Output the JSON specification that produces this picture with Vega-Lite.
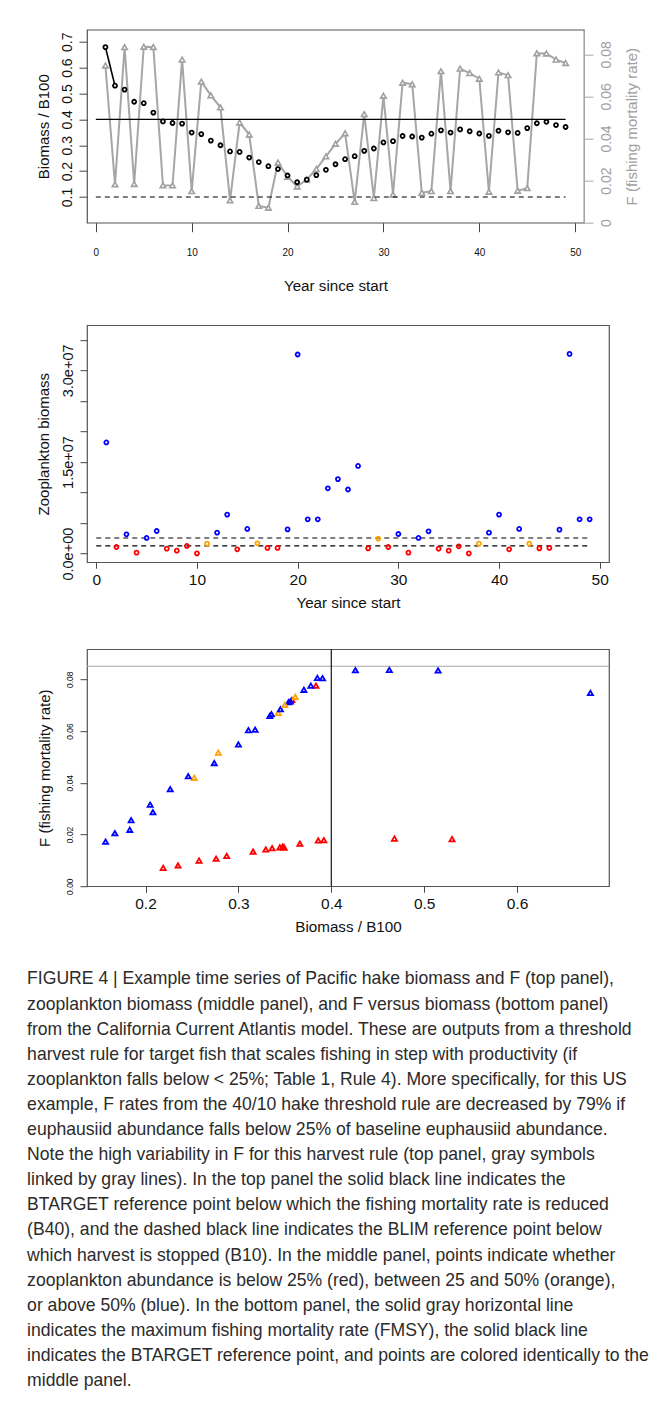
{
  "$schema": "https://vega.github.io/schema/vega-lite/v6.json",
  "padding": {"left": 27, "top": 28.7, "right": 2, "bottom": 2},
  "spacing": 28.5,
  "config": {
    "font": "Liberation Sans",
    "view": {"stroke": "#555", "strokeWidth": 1.2},
    "axis": {"grid": false, "domain": false, "tickColor": "#444", "labelColor": "#111", "titleColor": "#111", "titleFontWeight": "normal", "labelFlush": false, "labelOverlap": false}
  },
  "datasets": {
    "ts": [
      {"year": 1, "biomass": 0.679, "F": 0.0747, "zoo": 18200000, "zcat": "above 50%"},
      {"year": 2, "biomass": 0.530, "F": 0.0182, "zoo": 1090000, "zcat": "below 25%"},
      {"year": 3, "biomass": 0.515, "F": 0.0834, "zoo": 3170000, "zcat": "above 50%"},
      {"year": 4, "biomass": 0.468, "F": 0.0184, "zoo": 160000, "zcat": "below 25%"},
      {"year": 5, "biomass": 0.4625, "F": 0.0836, "zoo": 2570000, "zcat": "above 50%"},
      {"year": 6, "biomass": 0.426, "F": 0.0835, "zoo": 3710000, "zcat": "above 50%"},
      {"year": 7, "biomass": 0.392, "F": 0.0178, "zoo": 820000, "zcat": "below 25%"},
      {"year": 8, "biomass": 0.386, "F": 0.0177, "zoo": 490000, "zcat": "below 25%"},
      {"year": 9, "biomass": 0.3835, "F": 0.0775, "zoo": 1260000, "zcat": "below 25%"},
      {"year": 10, "biomass": 0.349, "F": 0.0150, "zoo": 50000, "zcat": "below 25%"},
      {"year": 11, "biomass": 0.343, "F": 0.0670, "zoo": 1640000, "zcat": "25-50%"},
      {"year": 12, "biomass": 0.318, "F": 0.0605, "zoo": 3440000, "zcat": "above 50%"},
      {"year": 13, "biomass": 0.300, "F": 0.0548, "zoo": 6390000, "zcat": "above 50%"},
      {"year": 14, "biomass": 0.276, "F": 0.0106, "zoo": 710000, "zcat": "below 25%"},
      {"year": 15, "biomass": 0.274, "F": 0.0476, "zoo": 4040000, "zcat": "above 50%"},
      {"year": 16, "biomass": 0.2525, "F": 0.0419, "zoo": 1690000, "zcat": "25-50%"},
      {"year": 17, "biomass": 0.235, "F": 0.0080, "zoo": 930000, "zcat": "below 25%"},
      {"year": 18, "biomass": 0.219, "F": 0.0071, "zoo": 930000, "zcat": "below 25%"},
      {"year": 19, "biomass": 0.208, "F": 0.0286, "zoo": 3980000, "zcat": "above 50%"},
      {"year": 20, "biomass": 0.183, "F": 0.0218, "zoo": 32600000, "zcat": "above 50%"},
      {"year": 21, "biomass": 0.157, "F": 0.0172, "zoo": 5620000, "zcat": "above 50%"},
      {"year": 22, "biomass": 0.167, "F": 0.0205, "zoo": 5620000, "zcat": "above 50%"},
      {"year": 23, "biomass": 0.1845, "F": 0.0255, "zoo": 10700000, "zcat": "above 50%"},
      {"year": 24, "biomass": 0.205, "F": 0.0315, "zoo": 12200000, "zcat": "above 50%"},
      {"year": 25, "biomass": 0.2266, "F": 0.0375, "zoo": 10500000, "zcat": "above 50%"},
      {"year": 26, "biomass": 0.246, "F": 0.0425, "zoo": 14360000, "zcat": "above 50%"},
      {"year": 27, "biomass": 0.2576, "F": 0.0099, "zoo": 870000, "zcat": "below 25%"},
      {"year": 28, "biomass": 0.2784, "F": 0.0516, "zoo": 2460000, "zcat": "25-50%"},
      {"year": 29, "biomass": 0.2874, "F": 0.0117, "zoo": 1090000, "zcat": "below 25%"},
      {"year": 30, "biomass": 0.3108, "F": 0.0603, "zoo": 3220000, "zcat": "above 50%"},
      {"year": 31, "biomass": 0.3158, "F": 0.0134, "zoo": 160000, "zcat": "below 25%"},
      {"year": 32, "biomass": 0.3356, "F": 0.0665, "zoo": 2570000, "zcat": "above 50%"},
      {"year": 33, "biomass": 0.3338, "F": 0.0658, "zoo": 3660000, "zcat": "above 50%"},
      {"year": 34, "biomass": 0.3295, "F": 0.0142, "zoo": 820000, "zcat": "below 25%"},
      {"year": 35, "biomass": 0.3446, "F": 0.0150, "zoo": 490000, "zcat": "below 25%"},
      {"year": 36, "biomass": 0.3576, "F": 0.0720, "zoo": 1200000, "zcat": "below 25%"},
      {"year": 37, "biomass": 0.349, "F": 0.0150, "zoo": 50000, "zcat": "below 25%"},
      {"year": 38, "biomass": 0.3612, "F": 0.0732, "zoo": 1640000, "zcat": "25-50%"},
      {"year": 39, "biomass": 0.354, "F": 0.0711, "zoo": 3440000, "zcat": "above 50%"},
      {"year": 40, "biomass": 0.3453, "F": 0.0684, "zoo": 6390000, "zcat": "above 50%"},
      {"year": 41, "biomass": 0.3363, "F": 0.0147, "zoo": 710000, "zcat": "below 25%"},
      {"year": 42, "biomass": 0.356, "F": 0.0714, "zoo": 4040000, "zcat": "above 50%"},
      {"year": 43, "biomass": 0.350, "F": 0.0701, "zoo": 1640000, "zcat": "25-50%"},
      {"year": 44, "biomass": 0.3475, "F": 0.0152, "zoo": 870000, "zcat": "below 25%"},
      {"year": 45, "biomass": 0.3662, "F": 0.0164, "zoo": 930000, "zcat": "below 25%"},
      {"year": 46, "biomass": 0.385, "F": 0.0805, "zoo": 3930000, "zcat": "above 50%"},
      {"year": 47, "biomass": 0.3906, "F": 0.0804, "zoo": 32700000, "zcat": "above 50%"},
      {"year": 48, "biomass": 0.378, "F": 0.0775, "zoo": 5620000, "zcat": "above 50%"},
      {"year": 49, "biomass": 0.3705, "F": 0.0759, "zoo": 5620000, "zcat": "above 50%"}
    ],
    "bref": [
      {"year": 0, "year_end": 49, "biomass": 0.4, "ref": "B40 target"},
      {"year": 0, "year_end": 49, "biomass": 0.1, "ref": "B10 limit"}
    ],
    "zref": [
      {"year": 0, "year_end": 49, "zoo": 2560000, "ref": "50% of baseline"},
      {"year": 0, "year_end": 49, "zoo": 1280000, "ref": "25% of baseline"}
    ],
    "fmsy": [{"F": 0.085, "ref": "FMSY"}],
    "btarget": [{"biomass": 0.4, "ref": "B40 target"}]
  },
  "title": {
    "text": [
      "FIGURE 4 | Example time series of Pacific hake biomass and F (top panel),",
      "zooplankton biomass (middle panel), and F versus biomass (bottom panel)",
      "from the California Current Atlantis model. These are outputs from a threshold",
      "harvest rule for target fish that scales fishing in step with productivity (if",
      "zooplankton falls below < 25%; Table 1, Rule 4). More specifically, for this US",
      "example, F rates from the 40/10 hake threshold rule are decreased by 79% if",
      "euphausiid abundance falls below 25% of baseline euphausiid abundance.",
      "Note the high variability in F for this harvest rule (top panel, gray symbols",
      "linked by gray lines). In the top panel the solid black line indicates the",
      "BTARGET reference point below which the fishing mortality rate is reduced",
      "(B40), and the dashed black line indicates the BLIM reference point below",
      "which harvest is stopped (B10). In the middle panel, points indicate whether",
      "zooplankton abundance is below 25% (red), between 25 and 50% (orange),",
      "or above 50% (blue). In the bottom panel, the solid gray horizontal line",
      "indicates the maximum fishing mortality rate (FMSY), the solid black line",
      "indicates the BTARGET reference point, and points are colored identically to the",
      "middle panel."
    ],
    "orient": "bottom",
    "anchor": "start",
    "frame": "bounds",
    "baseline": "top",
    "fontSize": 17.6,
    "lineHeight": 25.1,
    "fontWeight": "normal",
    "color": "#2b2b2b",
    "offset": 35,
    "dx": -9
  },
  "vconcat": [
    {
      "width": 497,
      "height": 193,
      "encoding": {
        "x": {
          "field": "year", "type": "quantitative",
          "scale": {"domain": [-0.92, 50.92], "nice": false, "zero": false},
          "axis": {"values": [0, 10, 20, 30, 40, 50], "tickSize": 9, "labelFontSize": 10, "labelBaseline": "middle", "labelPadding": 21, "title": "Year since start", "titleFontSize": 15.2, "titleBaseline": "middle", "titleY": 63.3, "titleX": 248.5}
        }
      },
      "layer": [
        {
          "encoding": {
            "y": {
              "field": "F", "type": "quantitative",
              "scale": {"domain": [0, 0.0917], "nice": false, "zero": false},
              "axis": {"orient": "right", "values": [0, 0.02, 0.04, 0.06, 0.08], "labelExpr": "datum.value == 0 ? '0' : format(datum.value, '.2f')", "domain": true, "domainColor": "#a6a6a6", "tickColor": "#a6a6a6", "tickSize": 9, "labelColor": "#a0a0a0", "labelFontSize": 14, "labelAngle": 270, "labelAlign": "center", "labelBaseline": "middle", "labelPadding": 13.5, "title": "F (fishing mortality rate)", "titleColor": "#a0a0a0", "titleFontSize": 15, "titleAngle": 270, "titleBaseline": "middle", "titleX": 47.3, "titleY": 96.5}
            }
          },
          "layer": [
            {"data": {"name": "ts"}, "mark": {"type": "line", "color": "#a6a6a6", "strokeWidth": 2}},
            {"data": {"name": "ts"}, "mark": {"type": "point", "shape": "triangle-up", "filled": true, "fill": "white", "stroke": "#a0a0a0", "strokeWidth": 1.6, "size": 30, "opacity": 1}}
          ]
        },
        {
          "encoding": {
            "y": {
              "field": "biomass", "type": "quantitative",
              "scale": {"domain": [0.0007, 0.7464], "nice": false, "zero": false},
              "axis": {"orient": "left", "values": [0.1, 0.2, 0.3, 0.4, 0.5, 0.6, 0.7], "tickSize": 8, "labelFontSize": 14, "labelAngle": 270, "labelAlign": "center", "labelBaseline": "middle", "labelPadding": 11.7, "title": "Biomass / B100", "titleFontSize": 15, "titleAngle": 270, "titleBaseline": "middle", "titleX": -43.3, "titleY": 96.5}
            }
          },
          "layer": [
            {"data": {"name": "bref"}, "transform": [{"filter": "datum.ref == 'B40 target'"}], "mark": {"type": "rule", "color": "black", "strokeWidth": 1.1}, "encoding": {"x2": {"field": "year_end"}}},
            {"data": {"name": "bref"}, "transform": [{"filter": "datum.ref == 'B10 limit'"}], "mark": {"type": "rule", "color": "black", "strokeWidth": 1.1, "strokeDash": [5, 4]}, "encoding": {"x2": {"field": "year_end"}}},
            {"data": {"name": "ts"}, "transform": [{"filter": "datum.year <= 2"}], "mark": {"type": "line", "color": "black", "strokeWidth": 1.6}},
            {"data": {"name": "ts"}, "mark": {"type": "point", "shape": "circle", "filled": true, "fill": "white", "stroke": "black", "strokeWidth": 1.8, "size": 16, "opacity": 1}}
          ]
        }
      ],
      "resolve": {"scale": {"y": "independent"}, "axis": {"y": "independent"}}
    },
    {
      "spacing": 35,
      "vconcat": [
        {
          "width": 522,
          "height": 237,
          "encoding": {
            "x": {
              "field": "year", "type": "quantitative",
              "scale": {"domain": [-0.92, 50.92], "nice": false, "zero": false},
              "axis": {"values": [0, 10, 20, 30, 40, 50], "tickSize": 6, "labelFontSize": 15.5, "labelBaseline": "middle", "labelPadding": 11.5, "title": "Year since start", "titleFontSize": 15.2, "titleBaseline": "middle", "titleY": 40.7, "titleX": 261}
            },
            "y": {
              "field": "zoo", "type": "quantitative",
              "scale": {"domain": [-1400000, 37400000], "nice": false, "zero": false},
              "axis": {"values": [0, 5000000, 10000000, 15000000, 20000000, 25000000, 30000000, 35000000], "labelExpr": "datum.value == 0 ? '0.0e+00' : datum.value == 15000000 ? '1.5e+07' : datum.value == 30000000 ? '3.0e+07' : ''", "tickSize": 7, "labelFontSize": 14.5, "labelAngle": 270, "labelAlign": "center", "labelBaseline": "middle", "labelPadding": 12, "title": "Zooplankton biomass", "titleFontSize": 15, "titleAngle": 270, "titleBaseline": "middle", "titleX": -43.1, "titleY": 118.5}
            }
          },
          "layer": [
            {"data": {"name": "zref"}, "mark": {"type": "rule", "color": "black", "strokeWidth": 1.1, "strokeDash": [5, 4]}, "encoding": {"x2": {"field": "year_end"}}},
            {"data": {"name": "ts"}, "mark": {"type": "point", "shape": "circle", "filled": false, "strokeWidth": 1.8, "size": 16, "opacity": 1},
             "encoding": {"color": {"field": "zcat", "type": "nominal", "scale": {"domain": ["below 25%", "25-50%", "above 50%"], "range": ["#ff0000", "#ffa500", "#0000ff"]}, "legend": null}}}
          ]
        },
        {
          "width": 522,
          "height": 237,
          "layer": [
            {"data": {"name": "fmsy"}, "mark": {"type": "rule", "color": "#a6a6a6", "strokeWidth": 1.1},
             "encoding": {"y": {"field": "F", "type": "quantitative", "scale": {"domain": [0, 0.0916], "nice": false, "zero": false}}}},
            {"data": {"name": "btarget"}, "mark": {"type": "rule", "color": "black", "strokeWidth": 1.1},
             "encoding": {"x": {"field": "biomass", "type": "quantitative", "scale": {"domain": [0.137, 0.699], "nice": false, "zero": false}}}},
            {"data": {"name": "ts"}, "mark": {"type": "point", "shape": "triangle-up", "filled": false, "strokeWidth": 1.8, "size": 26, "opacity": 1},
             "encoding": {
               "x": {"field": "biomass", "type": "quantitative", "scale": {"domain": [0.137, 0.699], "nice": false, "zero": false},
                     "axis": {"values": [0.2, 0.3, 0.4, 0.5, 0.6], "format": ".1f", "tickSize": 6, "labelFontSize": 15.5, "labelBaseline": "middle", "labelPadding": 11, "title": "Biomass / B100", "titleFontSize": 15.2, "titleBaseline": "middle", "titleY": 40.5, "titleX": 261}},
               "y": {"field": "F", "type": "quantitative", "scale": {"domain": [0, 0.0916], "nice": false, "zero": false},
                     "axis": {"values": [0, 0.02, 0.04, 0.06, 0.08], "format": ".2f", "tickSize": 7, "labelFontSize": 8.5, "labelAngle": 270, "labelAlign": "center", "labelBaseline": "middle", "labelPadding": 10.3, "title": "F (fishing mortality rate)", "titleFontSize": 15, "titleAngle": 270, "titleBaseline": "middle", "titleX": -42.3, "titleY": 118.5}},
               "color": {"field": "zcat", "type": "nominal", "scale": {"domain": ["below 25%", "25-50%", "above 50%"], "range": ["#ff0000", "#ffa500", "#0000ff"]}, "legend": null}
             }}
          ]
        }
      ]
    }
  ]
}
